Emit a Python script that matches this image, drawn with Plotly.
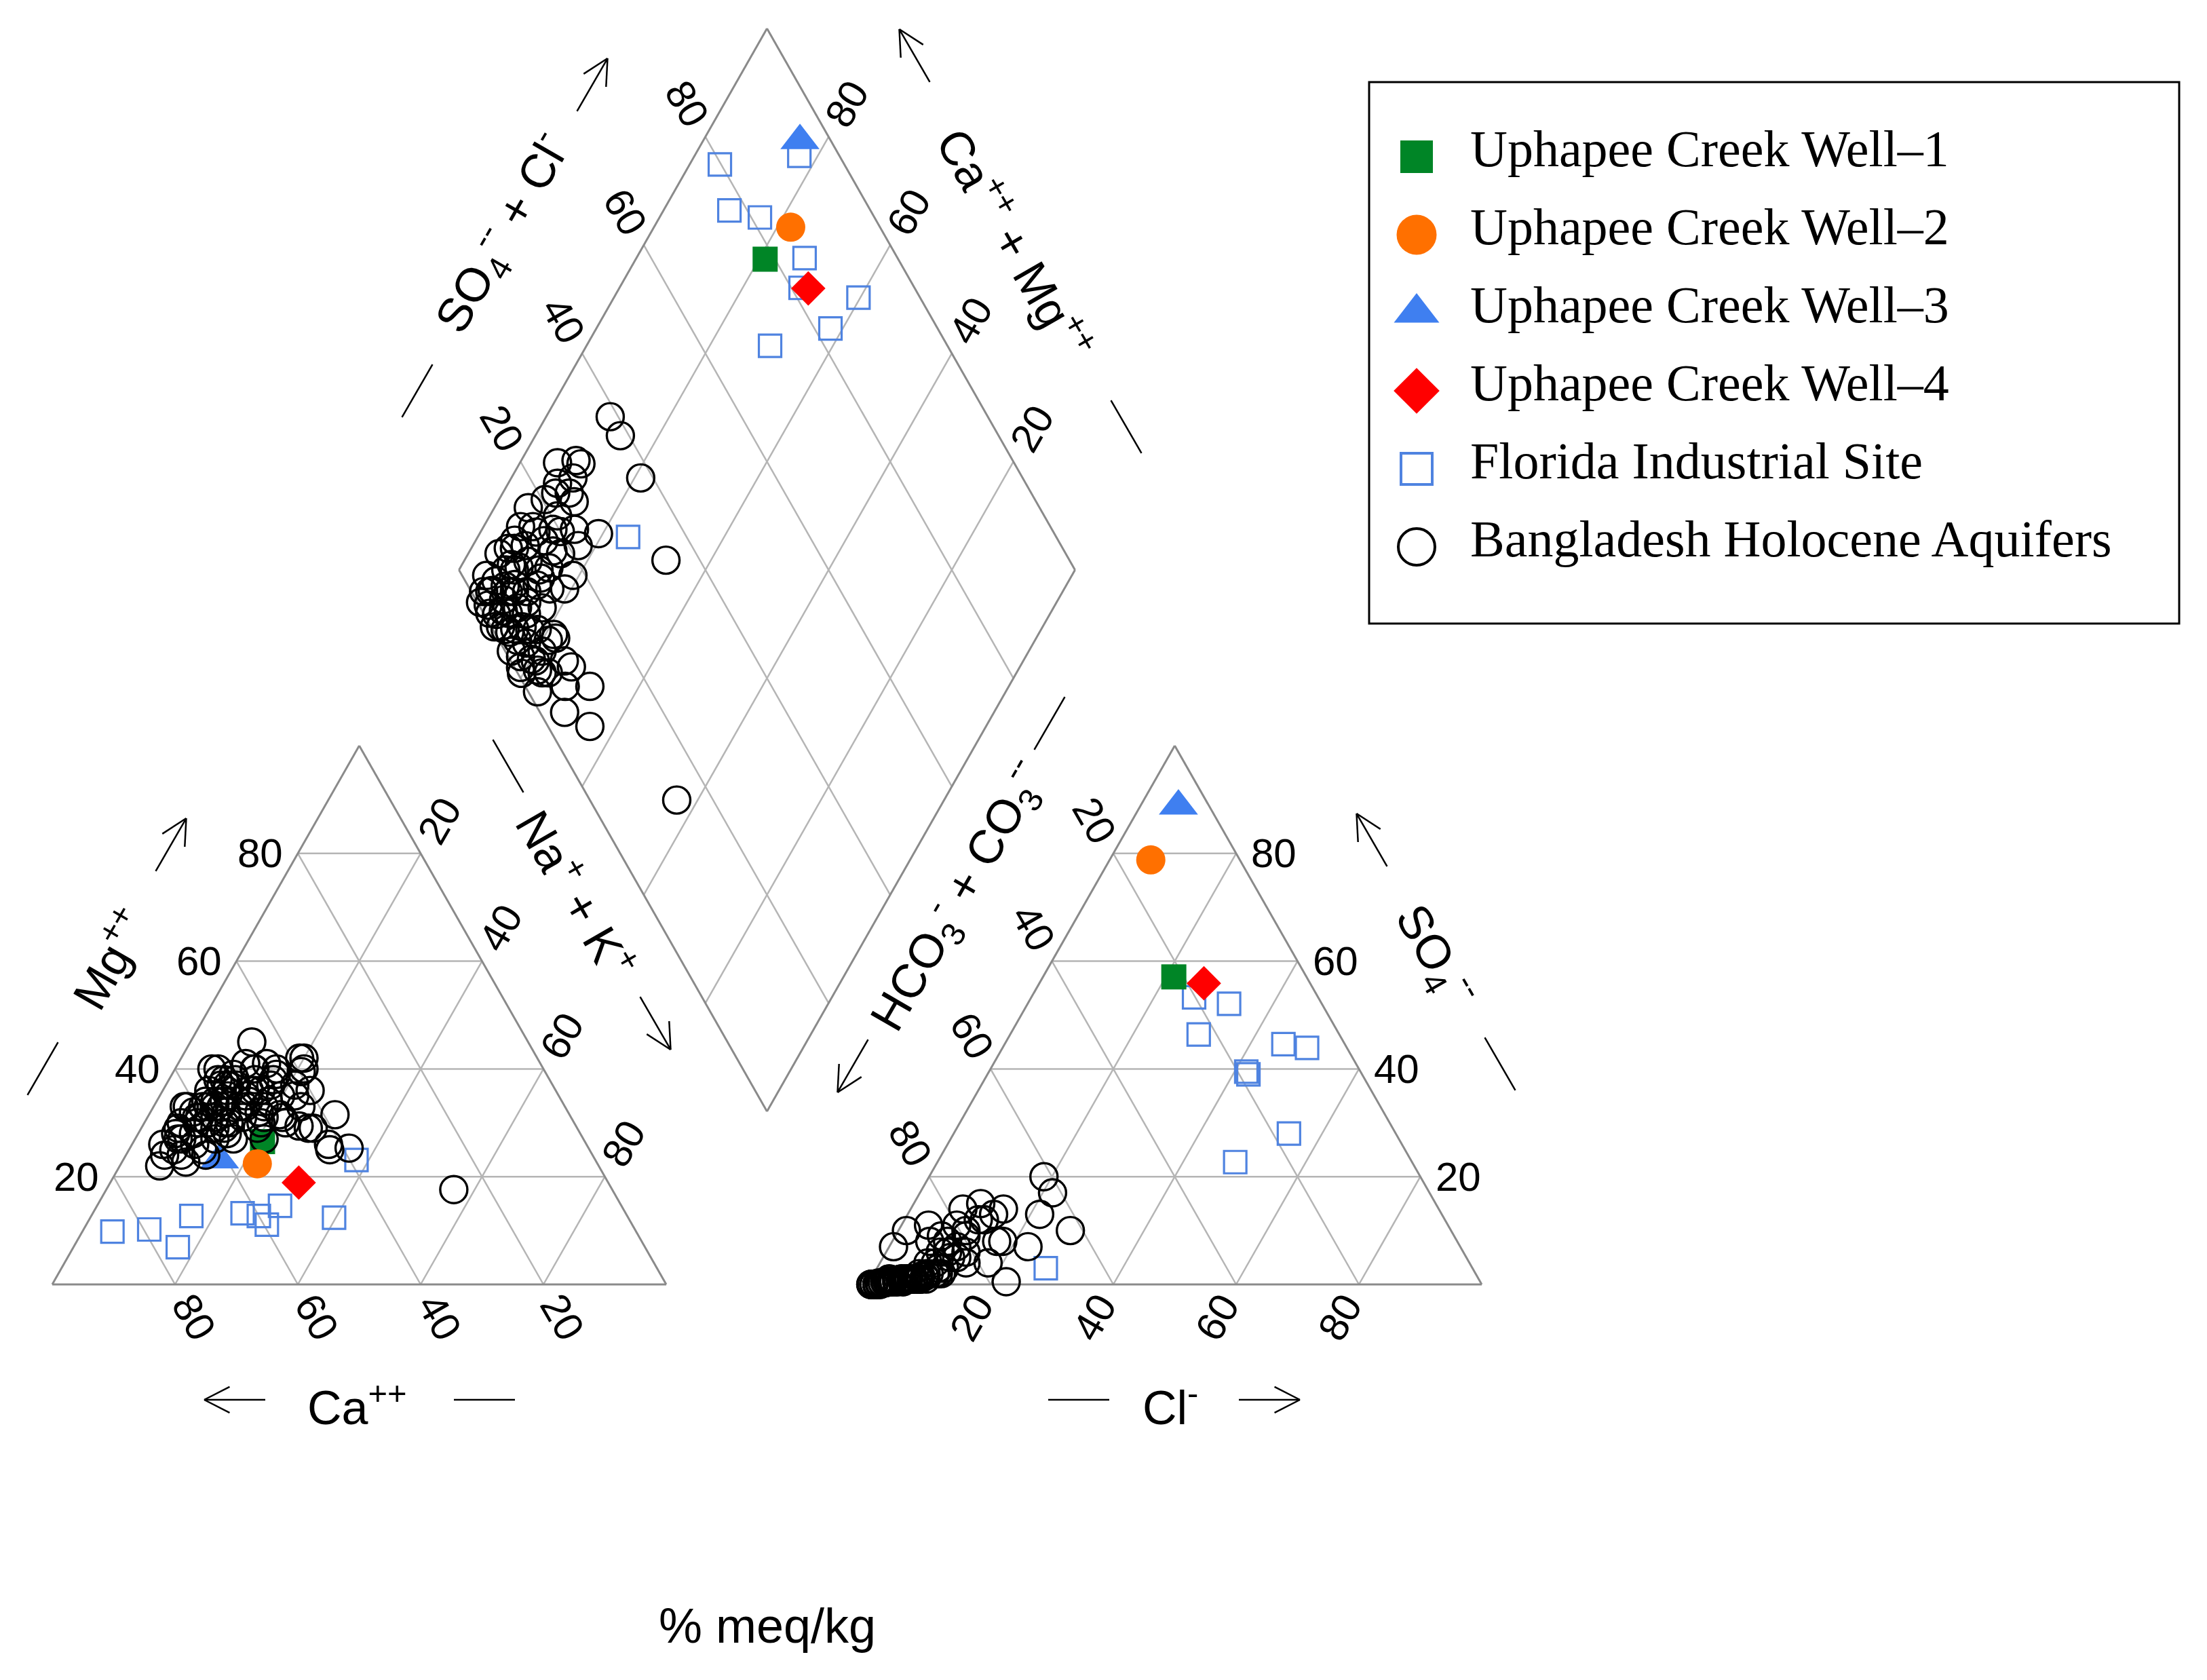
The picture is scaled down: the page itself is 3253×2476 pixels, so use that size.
import math
import plotly.graph_objects as go

# ---------------- data (percent of meq/kg) ----------------
well_names = ["Uphapee Creek Well\u20131", "Uphapee Creek Well\u20132",
              "Uphapee Creek Well\u20133", "Uphapee Creek Well\u20134"]
well_ca = [52.5, 55.4, 61.2, 50.4]
well_mg = [26.5, 22.4, 23.1, 18.9]
well_cl = [21.3, 6.7, 6.2, 26.8]
well_so4 = [57.1, 78.8, 88.8, 55.9]

florida_ca = [85.3, 79.1, 71.0, 76.1, 60.0, 59.5, 47.9, 38.9, 55.6, 62.4]
florida_mg = [9.8, 10.2, 12.7, 6.9, 12.7, 11.1, 12.4, 23.1, 14.6, 13.2]
florida_cl = [26.5, 30.7, 41.9, 49.6, 32.8, 42.5, 45.4, 54.6, 48.5, 27.5]
florida_so4 = [53.3, 46.4, 39.5, 43.9, 52.1, 39.0, 44.6, 28.0, 22.7, 3.0]

bangla_ca = [53.6, 56.2, 39.0, 42.3, 25.8, 65.9, 58.1, 45.0, 51.2, 61.4,
             38.7, 45.9, 52.1, 47.2, 45.1, 42.0, 38.2, 39.0, 43.0, 39.7,
             61.5, 55.6, 54.0, 69.7, 53.9, 47.1, 66.9, 65.4, 44.6, 59.6,
             67.7, 71.5, 49.9, 58.0, 52.0, 44.0, 57.5, 47.8, 47.0, 63.8,
             50.3, 42.0, 38.0, 45.3, 47.0, 43.8, 43.0, 64.0, 53.0, 63.0,
             59.0, 53.0, 63.0, 57.0, 48.0, 60.5, 69.0, 48.0, 56.5, 51.5,
             57.5, 54.0, 43.5, 49.0, 40.0, 56.5, 60.0, 53.5, 51.0, 48.0,
             61.0, 51.0, 51.0, 67.0, 53.0, 66.0, 61.0, 57.0, 59.0, 51.0,
             57.0, 54.0, 56.0, 63.0, 45.0, 50.0, 65.0, 52.0, 58.0, 49.0,
             62.0, 55.0, 47.0, 43.0, 53.0]
bangla_mg = [36.0, 30.0, 40.0, 25.0, 17.6, 28.0, 33.0, 45.0, 38.0, 30.0,
             42.0, 37.0, 29.0, 31.5, 29.4, 26.0, 31.5, 25.3, 35.0, 39.5,
             33.0, 32.0, 38.0, 24.0, 35.0, 40.0, 22.7, 27.0, 41.0, 30.0,
             25.0, 22.0, 36.0, 31.0, 33.0, 39.0, 28.0, 34.0, 31.0, 26.0,
             32.0, 37.0, 42.0, 35.0, 30.0, 29.0, 29.0, 30.0, 40.0, 28.0,
             33.0, 37.0, 25.0, 30.0, 38.0, 31.0, 26.0, 36.0, 34.0, 37.0,
             29.0, 40.0, 40.0, 33.0, 36.0, 36.0, 27.0, 31.0, 39.0, 41.0,
             32.0, 34.0, 30.0, 24.0, 33.0, 27.0, 31.0, 33.0, 29.0, 35.0,
             27.0, 37.0, 33.0, 24.0, 38.0, 31.0, 29.0, 27.0, 34.0, 36.0,
             33.0, 34.0, 40.0, 33.0, 38.0]
bangla_cl = [18.7, 21.6, 28.0, 21.5, 6.1, 10.9, 15.1, 22.6, 13.0, 22.3,
             18.0, 17.6, 4.4, 7.4, 7.7, 8.5, 3.0, 5.8, 3.0, 3.0,
             9.0, 17.0, 10.0, 7.8, 7.5, 9.0, 10.0, 6.6, 8.8, 0.7,
             3.0, 0.5, 1.3, 2.9, 5.9, 8.5, 3.1, 6.2, 7.9, 1.7,
             3.7, 5.0, 3.0, 0.6, 3.5, 7.8, 5.5, 2.0, 4.5, 1.0,
             8.0, 4.0, 1.5, 5.0, 2.2, 11.0, 7.0, 1.0, 8.5, 13.0,
             12.0, 11.0, 9.0, 2.0, 1.5, 11.5, 8.0, 4.5, 14.0, 6.0,
             9.0, 8.5, 14.0, 5.5, 10.5, 2.5, 1.5, 5.5, 3.5, 7.0,
             2.7, 11.0, 11.0, 10.0, 5.0, 1.0, 9.0, 7.0, 12.0, 11.0,
             3.5, 0.5, 1.8, 4.5, 8.0]
bangla_so4 = [20.0, 17.0, 10.0, 13.0, 8.0, 15.0, 14.0, 7.0, 12.0, 0.5,
              8.0, 4.0, 11.0, 2.0, 1.0, 2.0, 1.0, 1.0, 0.5, 1.0,
              8.0, 8.0, 6.0, 4.0, 9.0, 11.0, 2.0, 1.0, 6.0, 7.0,
              0.5, 0.0, 10.0, 0.5, 1.0, 1.5, 0.5, 1.0, 1.5, 0.3,
              0.5, 1.0, 0.5, 0.0, 0.5, 1.5, 1.0, 0.0, 0.5, 0.0,
              1.0, 0.5, 0.0, 1.0, 0.3, 2.0, 1.0, 0.0, 1.5, 6.0,
              5.0, 3.0, 4.0, 0.0, 0.0, 9.0, 1.0, 0.5, 13.0, 1.0,
              2.0, 14.0, 4.0, 0.5, 2.0, 0.5, 0.0, 0.5, 0.5, 1.0,
              0.3, 5.0, 10.0, 3.0, 1.0, 0.0, 1.0, 1.0, 12.0, 7.0,
              0.5, 0.0, 0.2, 0.5, 1.0]

tick_values = [20, 40, 60, 80]

# ---------------- page geometry (pixels) ----------------
W, H = 3253, 2476
SIDE = 905.0          # triangle base width
TH = 794.0            # triangle height
BASE_Y = 1893.0
CAT_X0 = 77.0
AN_X0 = 1279.0
DIA_BX, DIA_BY = 1130.5, 1638.0
DIA_HW = 454.0
DIA_HH = 798.0

GRID = "#b5b5b5"
EDGE = "#8a8a8a"
SANS = "Liberation Sans, Arial, sans-serif"
SERIF = "Liberation Serif, Times New Roman, serif"


def cat_xy(ca, mg):
    nak = 100.0 - ca - mg
    return CAT_X0 + SIDE * (nak + mg / 2.0) / 100.0, BASE_Y - TH * mg / 100.0


def an_xy(cl, so4):
    return AN_X0 + SIDE * (cl + so4 / 2.0) / 100.0, BASE_Y - TH * so4 / 100.0


def dia_xy(s, t):
    return DIA_BX + DIA_HW * (t - s) / 100.0, DIA_BY - DIA_HH * (s + t) / 100.0


shapes = []
annotations = []


def seg(p, q, color, width, layer="below"):
    shapes.append(dict(type="line", xref="x", yref="y", x0=p[0], y0=p[1], x1=q[0], y1=q[1],
                       line=dict(color=color, width=width), layer=layer))


def text(x, y, s, size=60, angle=0, xanchor="center", family=SANS):
    annotations.append(dict(x=x, y=y, xref="x", yref="y", text=s, showarrow=False,
                            textangle=angle, xanchor=xanchor, yanchor="middle",
                            font=dict(family=family, size=size, color="black")))


def unit(p, q):
    dx, dy = q[0] - p[0], q[1] - p[1]
    n = math.hypot(dx, dy)
    return dx / n, dy / n


D = 56.0   # offset of rotated tick labels along the grid line
G = 20.0   # gap of horizontal tick labels

# ---------------- cation triangle ----------------
for k in tick_values:
    seg(cat_xy(100 - k, k), cat_xy(0, k), GRID, 2.5)           # Mg = k
    seg(cat_xy(k, 100 - k), cat_xy(k, 0), GRID, 2.5)           # Ca = k
    seg(cat_xy(100 - k, 0), cat_xy(0, 100 - k), GRID, 2.5)     # NaK = k
seg(cat_xy(100, 0), cat_xy(0, 0), EDGE, 3)
seg(cat_xy(0, 0), cat_xy(0, 100), EDGE, 3)
seg(cat_xy(0, 100), cat_xy(100, 0), EDGE, 3)
for k in tick_values:
    x, y = cat_xy(100 - k, k)
    text(x - G, y, str(k), xanchor="right")
    p, q = cat_xy(k, 100 - k), cat_xy(k, 0)
    ux, uy = unit(p, q)
    text(q[0] + ux * D, q[1] + uy * D, str(k), angle=60)
    p, q = cat_xy(100 - k, 0), cat_xy(0, 100 - k)
    ux, uy = unit(p, q)
    text(q[0] + ux * D, q[1] + uy * D, str(k), angle=-60)

# ---------------- anion triangle ----------------
for k in tick_values:
    seg(an_xy(0, k), an_xy(100 - k, k), GRID, 2.5)             # SO4 = k
    seg(an_xy(k, 0), an_xy(k, 100 - k), GRID, 2.5)             # Cl = k
    seg(an_xy(0, 100 - k), an_xy(100 - k, 0), GRID, 2.5)       # HCO3 = k
seg(an_xy(0, 0), an_xy(100, 0), EDGE, 3)
seg(an_xy(100, 0), an_xy(0, 100), EDGE, 3)
seg(an_xy(0, 100), an_xy(0, 0), EDGE, 3)
for k in tick_values:
    x, y = an_xy(100 - k, k)
    text(x + G, y, str(k), xanchor="left")
    p, q = an_xy(k, 100 - k), an_xy(k, 0)
    ux, uy = unit(p, q)
    text(q[0] + ux * D, q[1] + uy * D, str(k), angle=-60)
    p, q = an_xy(100 - k, 0), an_xy(0, 100 - k)
    ux, uy = unit(p, q)
    text(q[0] + ux * D, q[1] + uy * D, str(k), angle=60)

# ---------------- diamond ----------------
for k in tick_values:
    seg(dia_xy(k, 0), dia_xy(k, 100), GRID, 2.5)
    seg(dia_xy(0, k), dia_xy(100, k), GRID, 2.5)
corners = [dia_xy(0, 0), dia_xy(100, 0), dia_xy(100, 100), dia_xy(0, 100), dia_xy(0, 0)]
for a, b in zip(corners[:-1], corners[1:]):
    seg(a, b, EDGE, 3)
for k in tick_values:
    p, q = dia_xy(0, k), dia_xy(100, k)
    ux, uy = unit(p, q)
    text(q[0] + ux * D, q[1] + uy * D, str(k), angle=60)
    p, q = dia_xy(k, 0), dia_xy(k, 100)
    ux, uy = unit(p, q)
    text(q[0] + ux * D, q[1] + uy * D, str(k), angle=-60)

# ---------------- axis titles, dashes and arrows ----------------


def dash(cx, cy, d, length=90):
    seg((cx - d[0] * length / 2, cy - d[1] * length / 2),
        (cx + d[0] * length / 2, cy + d[1] * length / 2), "black", 2.5)


def arrow(cx, cy, d, length=90, head=42, spread=27):
    p = (cx - d[0] * length / 2, cy - d[1] * length / 2)
    q = (cx + d[0] * length / 2, cy + d[1] * length / 2)
    seg(p, q, "black", 2.5)
    ang = math.atan2(d[1], d[0])
    for sgn in (-1, 1):
        a = ang + math.pi + sgn * math.radians(spread)
        seg(q, (q[0] + head * math.cos(a), q[1] + head * math.sin(a)), "black", 2.5)


UR = (0.5, -math.sqrt(3) / 2)
DR = (0.5, math.sqrt(3) / 2)
UL = (-0.5, -math.sqrt(3) / 2)
DL = (-0.5, math.sqrt(3) / 2)

TS = 70
# Mg
dash(63, 1575, UR)
arrow(252, 1245, UR)
text(160, 1412, "Mg<sup>++</sup>", size=TS, angle=-60)
# Ca
arrow(346, 2063, (-1, 0))
dash(714, 2063, (1, 0))
text(526, 2070, "Ca<sup>++</sup>", size=TS)
# Na + K
dash(749, 1129, DR)
arrow(966, 1508, DR)
text(851, 1316, "Na<sup>+</sup> + K<sup>+</sup>", size=TS, angle=60)
# Cl
dash(1590, 2063, (1, 0))
arrow(1871, 2063, (1, 0))
text(1725, 2070, "Cl<sup>-</sup>", size=TS)
# SO4 (anion)
arrow(2022, 1238, UL)
dash(2211, 1568, UL)
text(2116, 1408, "SO<sub>4</sub><sup>--</sup>", size=TS, angle=60)
# HCO3 + CO3
dash(1547, 1066, DL)
arrow(1257, 1571, DL)
text(1412, 1320, "HCO<sub>3</sub><sup>-</sup> + CO<sub>3</sub><sup>--</sup>", size=TS, angle=-60)
# diamond SO4 + Cl
arrow(873, 125, UR)
dash(615, 576, UR)
text(740, 344, "SO<sub>4</sub><sup>--</sup> + Cl<sup>-</sup>", size=TS, angle=-60)
# diamond Ca + Mg
arrow(1348, 82, UL)
dash(1660, 629, UL)
text(1498, 358, "Ca<sup>++</sup> + Mg<sup>++</sup>", size=TS, angle=60)

text(1131, 2396, "% meq/kg", size=72)

# ---------------- data traces ----------------
fig = go.Figure()


def add_group(ca, mg, cl, so4, marker):
    xs, ys = [], []
    for a, m, c, s in zip(ca, mg, cl, so4):
        for pt in (cat_xy(a, m), an_xy(c, s), dia_xy(a + m, c + s)):
            xs.append(pt[0])
            ys.append(pt[1])
    fig.add_trace(go.Scatter(x=xs, y=ys, mode="markers", marker=marker,
                             hoverinfo="skip", showlegend=False))


FL_BLUE = "#4f83e0"
styles = {
    "florida": dict(symbol="square-open", size=33, color=FL_BLUE, line=dict(width=3.2, color=FL_BLUE)),
    "w1": dict(symbol="square", size=37, color="#008526", line=dict(width=0)),
    "w3": dict(symbol="triangle-up", size=50, color="#3f7ff0", line=dict(width=0)),
    "bang": dict(symbol="circle-open", size=40, color="black", line=dict(width=3.4, color="black")),
    "w2": dict(symbol="circle", size=43, color="#ff7000", line=dict(width=0)),
    "w4": dict(symbol="diamond", size=39, color="#ff0000", line=dict(width=0)),
}

add_group(florida_ca, florida_mg, florida_cl, florida_so4, styles["florida"])
add_group(well_ca[0:1], well_mg[0:1], well_cl[0:1], well_so4[0:1], styles["w1"])
add_group(well_ca[2:3], well_mg[2:3], well_cl[2:3], well_so4[2:3], styles["w3"])
add_group(bangla_ca, bangla_mg, bangla_cl, bangla_so4, styles["bang"])
add_group(well_ca[1:2], well_mg[1:2], well_cl[1:2], well_so4[1:2], styles["w2"])
add_group(well_ca[3:4], well_mg[3:4], well_cl[3:4], well_so4[3:4], styles["w4"])

# ---------------- legend (drawn box) ----------------
legend_labels = well_names + ["Florida Industrial Site", "Bangladesh Holocene Aquifers"]
legend_markers = [
    dict(symbol="square", size=48, color="#008526"),
    dict(symbol="circle", size=59, color="#ff7000"),
    dict(symbol="triangle-up", size=58, color="#3f7ff0"),
    dict(symbol="diamond", size=52, color="#ff0000"),
    dict(symbol="square-open", size=46, color=FL_BLUE, line=dict(width=4, color=FL_BLUE)),
    dict(symbol="circle-open", size=54, color="black", line=dict(width=4, color="black")),
]
LX0, LY0, LX1, LY1 = 2018, 121, 3212, 919
shapes.append(dict(type="rect", xref="x", yref="y", x0=LX0, y0=LY0, x1=LX1, y1=LY1,
                   line=dict(color="black", width=3), fillcolor="rgba(0,0,0,0)", layer="below"))
ROW0, ROWSTEP = 231, 115
for i, (lab, mk) in enumerate(zip(legend_labels, legend_markers)):
    ry = ROW0 + i * ROWSTEP
    fig.add_trace(go.Scatter(x=[2088], y=[ry], mode="markers", marker=mk,
                             hoverinfo="skip", showlegend=False))
    text(2165, ry - 12, lab, size=76, xanchor="left", family=SERIF)

fig.update_layout(
    width=W, height=H,
    margin=dict(l=0, r=0, t=0, b=0),
    paper_bgcolor="white", plot_bgcolor="white",
    xaxis=dict(range=[0, W], visible=False, fixedrange=True),
    yaxis=dict(range=[H, 0], visible=False, fixedrange=True),
    shapes=shapes, annotations=annotations, showlegend=False,
)

fig.write_html("out.html", config={"displayModeBar": False},
               post_script="document.body.style.margin='0px';")
